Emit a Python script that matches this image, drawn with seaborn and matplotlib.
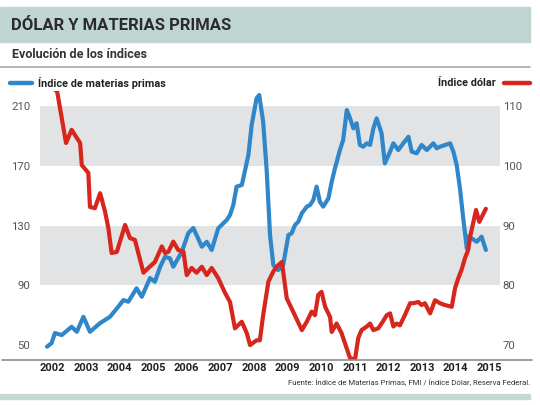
import numpy as np
import pandas as pd
import matplotlib
matplotlib.use("Agg")
import matplotlib.pyplot as plt
from matplotlib.lines import Line2D
from matplotlib.patches import Rectangle
import seaborn as sns

# ── Data ────────────────────────────────────────────────────
years = list(range(2002, 2016))

mp_fecha = [2002.00, 2002.14, 2002.24, 2002.45, 2002.75, 2002.91, 2003.11, 2003.31,
            2003.62, 2003.92, 2004.17, 2004.33, 2004.48, 2004.73, 2004.89, 2005.14,
            2005.29, 2005.45, 2005.60, 2005.75, 2005.85, 2006.11, 2006.31, 2006.46,
            2006.56, 2006.72, 2006.87, 2007.02, 2007.22, 2007.48, 2007.58, 2007.68,
            2007.78, 2007.94, 2008.14, 2008.24, 2008.39, 2008.47, 2008.59, 2008.70,
            2008.80, 2008.90, 2009.05, 2009.20, 2009.36, 2009.46, 2009.56, 2009.66,
            2009.77, 2009.92, 2010.02, 2010.12, 2010.22, 2010.32, 2010.42, 2010.58,
            2010.68, 2010.78, 2010.93, 2011.03, 2011.14, 2011.24, 2011.34, 2011.44,
            2011.54, 2011.64, 2011.75, 2011.85, 2011.95, 2012.05, 2012.20, 2012.30,
            2012.46, 2012.56, 2012.71, 2012.86, 2013.02, 2013.12, 2013.27, 2013.42,
            2013.58, 2013.78, 2013.88, 2013.98, 2014.29, 2014.39, 2014.49, 2014.59,
            2014.69, 2014.80, 2014.84, 2014.95, 2015.10, 2015.25, 2015.38]
mp_valor = [48.9, 51.3, 58.0, 56.7, 62.2, 58.9, 68.9, 58.9,
            64.7, 68.9, 75.6, 80.1, 79.0, 88.0, 82.3, 94.8,
            92.4, 102.4, 109.1, 108.0, 102.4, 112.4, 125.0, 128.3,
            123.6, 115.8, 119.1, 113.6, 128.1, 133.7, 137.0, 143.7,
            156.0, 157.1, 177.2, 197.3, 215.1, 217.3, 199.5, 166.0,
            123.6, 103.5, 100.2, 103.5, 123.6, 124.8, 130.3, 132.5,
            138.2, 142.6, 143.7, 147.1, 156.0, 145.9, 142.6, 148.2,
            159.3, 168.3, 180.5, 187.2, 207.3, 201.7, 195.0, 198.4,
            183.9, 182.7, 185.0, 183.9, 195.0, 201.7, 191.7, 171.6,
            179.4, 185.0, 180.5, 185.0, 189.4, 179.4, 178.3, 183.9,
            180.5, 185.0, 181.7, 182.7, 185.0, 179.4, 170.5, 154.9,
            134.8, 114.7, 122.5, 121.4, 119.1, 122.5, 113.6]

dolar_fecha = [2002.00, 2002.15, 2002.31, 2002.58, 2002.75, 2003.01, 2003.06, 2003.26,
               2003.31, 2003.46, 2003.62, 2003.77, 2003.87, 2003.97, 2004.13, 2004.38,
               2004.53, 2004.68, 2004.94, 2005.09, 2005.29, 2005.50, 2005.60, 2005.70,
               2005.85, 2006.00, 2006.16, 2006.26, 2006.41, 2006.56, 2006.72, 2006.87,
               2007.02, 2007.22, 2007.43, 2007.58, 2007.73, 2007.94, 2008.09, 2008.19,
               2008.39, 2008.49, 2008.59, 2008.75, 2008.90, 2009.00, 2009.16, 2009.20,
               2009.31, 2009.46, 2009.77, 2009.92, 2010.07, 2010.17, 2010.27, 2010.37,
               2010.48, 2010.63, 2010.68, 2010.83, 2010.98, 2011.14, 2011.24, 2011.39,
               2011.49, 2011.59, 2011.75, 2011.85, 2011.95, 2012.10, 2012.20, 2012.36,
               2012.46, 2012.56, 2012.66, 2012.76, 2012.91, 2013.07, 2013.17, 2013.32,
               2013.42, 2013.52, 2013.68, 2013.83, 2013.98, 2014.13, 2014.34, 2014.44,
               2014.54, 2014.64, 2014.74, 2014.84, 2014.90, 2015.00, 2015.08, 2015.18,
               2015.38]
dolar_valor = [113.0, 113.2, 112.4, 103.8, 106.0, 103.8, 100.1, 98.8,
               93.1, 92.9, 95.4, 92.3, 89.6, 85.4, 85.6, 90.1,
               87.9, 87.6, 82.1, 82.9, 83.9, 86.5, 85.4, 85.6,
               87.3, 85.9, 85.6, 81.7, 82.9, 82.1, 83.1, 81.7,
               82.9, 81.2, 78.7, 77.2, 72.8, 73.9, 72.0, 70.0,
               70.8, 70.8, 75.0, 80.6, 82.3, 83.1, 83.9, 82.3,
               77.8, 76.1, 72.5, 73.9, 75.6, 75.0, 78.4, 78.9,
               76.4, 74.7, 72.2, 73.6, 72.0, 69.4, 67.8, 67.6,
               71.2, 72.5, 73.1, 73.6, 72.5, 72.8, 73.6, 75.0,
               75.3, 73.1, 73.6, 73.3, 75.0, 77.0, 77.0, 77.2,
               76.7, 77.0, 75.3, 77.5, 77.0, 76.7, 76.4, 79.5,
               81.2, 82.6, 84.5, 85.9, 88.1, 90.6, 92.6, 90.6,
               92.8]

ticks_izq = [50, 90, 130, 170, 210]
ticks_der = [70, 80, 90, 100, 110]

AZUL = "#2f87c9"
ROJO = "#d6261d"

sns.set_style("white")
plt.rcParams["font.family"] = ["Roboto", "DejaVu Sans"]

W, H = 540, 405
fig = plt.figure(figsize=(W / 100, H / 100), dpi=100)


def fx(px):
    return px / W


def fy(py):
    return 1 - py / H


# ── Header ──────────────────────────────────────────────────
fig.patches.append(Rectangle((0, fy(42)), fx(530), 35 / H,
                             transform=fig.transFigure, color="#bfd5d1", zorder=0))
fig.text(fx(11), fy(25), "DÓLAR Y MATERIAS PRIMAS", fontsize=12,
         fontweight="bold", color="#2b2b2b", va="center")
fig.text(fx(12), fy(54), "Evolución de los índices", fontsize=9,
         fontweight="bold", color="#333333", va="center")
fig.add_artist(Line2D([0, fx(530)], [fy(67), fy(67)], color="#a8a8a8", lw=1.2))

# legend
fig.add_artist(Line2D([fx(10), fx(32)], [fy(83), fy(83)], color=AZUL, lw=3.2,
                      solid_capstyle="round"))
fig.text(fx(38), fy(83), "Índice de materias primas", fontsize=7.8,
         fontweight="bold", color="#222222", va="center")
fig.add_artist(Line2D([fx(504), fx(530)], [fy(83), fy(83)], color=ROJO, lw=3.2,
                      solid_capstyle="round"))
fig.text(fx(496), fy(83), "Índice dólar", fontsize=7.8, fontweight="bold",
         color="#222222", va="center", ha="right")

# ── Plot area ───────────────────────────────────────────────
ax = fig.add_axes([fx(40), fy(360), fx(460), 269 / H])
ax2 = ax.twinx()

ax.axhspan(170, 210, color="#e2e3e5", lw=0, zorder=0)
ax.axhspan(90, 130, color="#e2e3e5", lw=0, zorder=0)

sns.lineplot(x=mp_fecha, y=mp_valor, ax=ax, color=AZUL, lw=3.0)
sns.lineplot(x=dolar_fecha, y=dolar_valor, ax=ax2, color=ROJO, lw=3.0)

x0 = 2002 + (40 - 47) / 32.8
x1 = 2002 + (500 - 47) / 32.8
ax.set_xlim(x0, x1)
ax.set_ylim(40, 220)
ax2.set_ylim(67.5, 112.5)

ax.set_yticks(ticks_izq)
ax.set_yticklabels([str(v) for v in ticks_izq])
ax2.set_yticks(ticks_der)
ax2.set_yticklabels([str(v) for v in ticks_der])

tick_pos = [y + 0.16 + 0.025 * (y - 2002) for y in years]
ax.set_xticks(tick_pos)
ax.set_xticklabels([str(y) for y in years], fontweight="bold")

ax.tick_params(axis="y", length=0, pad=7, labelsize=8.2, labelcolor="#555555")
ax2.tick_params(axis="y", length=0, pad=2, labelsize=8.2, labelcolor="#555555")
ax.tick_params(axis="x", length=0, pad=2.5, labelsize=8, labelcolor="#222222")

for a in (ax, ax2):
    a.set_xlabel("")
    a.set_ylabel("")
    for s in a.spines.values():
        s.set_visible(False)
    a.grid(False)

ax.patch.set_alpha(0)

fig.add_artist(Line2D([fx(2), fx(532)], [fy(360), fy(360)], color="#8c8c8c", lw=1.2))

# ── Footer ──────────────────────────────────────────────────
fig.text(fx(530), fy(382), "Fuente: Índice de Materias Primas, FMI / Índice Dólar, Reserva Federal.",
         fontsize=5.6, color="#333333", ha="right", va="center")
fig.patches.append(Rectangle((0, fy(399)), fx(530), 5 / H,
                             transform=fig.transFigure, color="#c5d8d5", zorder=0))

plt.savefig("out.png", dpi=100)
